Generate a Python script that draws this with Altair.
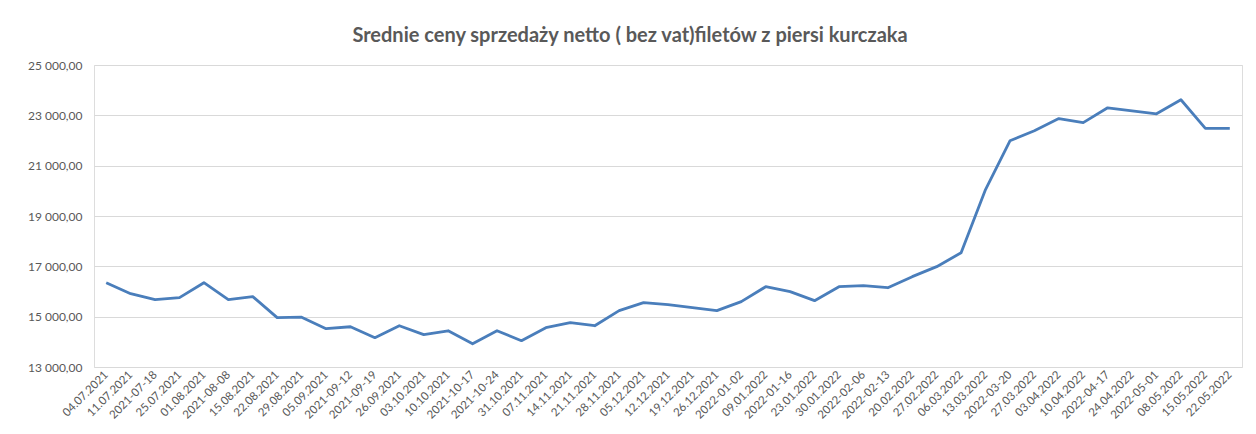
import altair as alt
import pandas as pd

labels = ["04.07.2021", "11.07.2021", "2021-07-18", "25.07.2021", "01.08.2021", "2021-08-08",
          "15.08.2021", "22.08.2021", "29.08.2021", "05.09.2021", "2021-09-12", "2021-09-19",
          "26.09.2021", "03.10.2021", "10.10.2021", "2021-10-17", "2021-10-24", "31.10.2021",
          "07.11.2021", "14.11.2021", "21.11.2021", "28.11.2021", "05.12.2021", "12.12.2021",
          "19.12.2021", "26.12.2021", "2022-01-02", "09.01.2022", "2022-01-16", "23.01.2022",
          "30.01.2022", "2022-02-06", "2022-02-13", "20.02.2022", "27.02.2022", "06.03.2022",
          "13.03.2022", "2022-03-20", "27.03.2022", "03.04.2022", "10.04.2022", "2022-04-17",
          "24.04.2022", "2022-05-01", "08.05.2022", "15.05.2022", "22.05.2022"]

prices = [16350, 15914, 15676, 15755, 16350, 15676, 15795, 14960, 14980, 14523, 14600, 14165,
          14640, 14285, 14440, 13925, 14440, 14045, 14563, 14760, 14640, 15240, 15556, 15477,
          15357, 15240, 15596, 16190, 15994, 15636, 16190, 16230, 16150, 16590, 16987, 17540,
          20050, 21990, 22390, 22870, 22710, 23300, 23180, 23060, 23620, 22480, 22480]

title_text = "Srednie ceny sprzedaży netto ( bez vat)filetów z piersi kurczaka"

df = pd.DataFrame({"label": labels, "price": prices})

FONT = "Lato"
GRAY = "#595959"

chart = alt.Chart(df).mark_line(color="#4A7EBB", strokeWidth=2.8, strokeJoin="round").encode(
    x=alt.X("label:N", sort=labels,
            scale=alt.Scale(type="point", padding=0.5),
            axis=alt.Axis(title=None, labelAngle=-45, labelAlign="right", labelBaseline="middle",
                          ticks=False, domain=False, grid=False, labelPadding=6,
                          labelFont=FONT, labelFontSize=11.5, labelColor=GRAY,
                          labelOverlap=False)),
    y=alt.Y("price:Q",
            scale=alt.Scale(domain=[13000, 25000], nice=False, zero=False),
            axis=alt.Axis(title=None, values=[13000, 15000, 17000, 19000, 21000, 23000, 25000],
                          labelExpr="replace(replace(format(datum.value, ',.2f'), ',', ' '), '.', ',')",
                          ticks=False, domain=False, grid=True, gridColor="#D9D9D9", gridWidth=1,
                          labelPadding=12, labelFont=FONT, labelFontSize=12, labelColor=GRAY)),
).properties(
    width=1148,
    height=302,
    title=alt.TitleParams(title_text, font=FONT, fontSize=20, fontWeight="bold", color=GRAY,
                          anchor="middle", dx=-38, offset=13),
    autosize=alt.AutoSizeParams(type="none"),
    padding={"left": 86, "top": 57, "right": 6, "bottom": 59},
).configure_view(stroke=None).configure(background="white")

chart.save("out.html", embed_options={"renderer": "svg", "actions": False})
